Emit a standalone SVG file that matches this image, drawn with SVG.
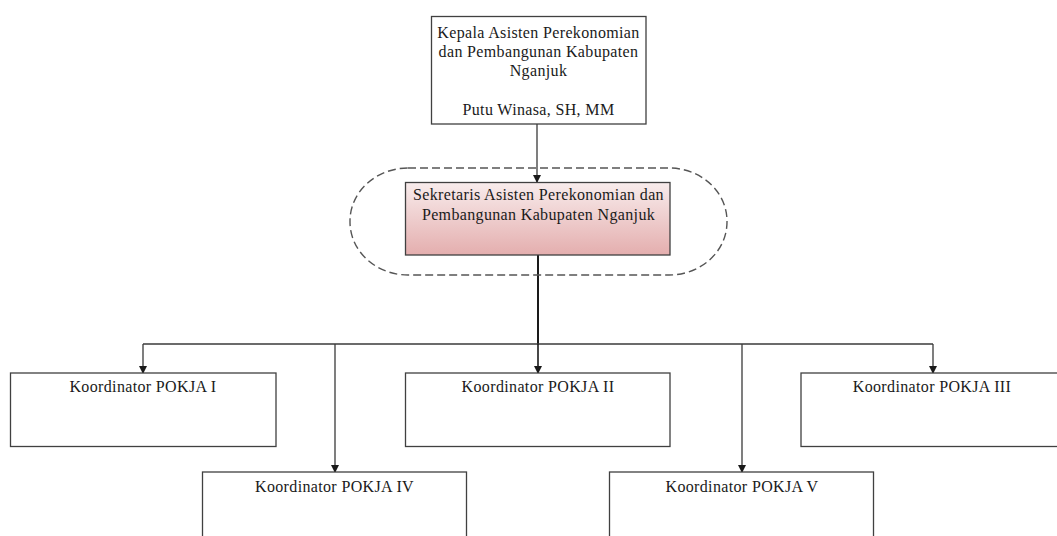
<svg xmlns="http://www.w3.org/2000/svg" width="1057" height="536" viewBox="0 0 1057 536">
<style>
.box{fill:#fff;stroke:#404040;stroke-width:1.3}
.t{font-family:"Liberation Serif","Times New Roman",serif;font-size:16px;letter-spacing:0.35px;fill:#1a1a1a;text-anchor:middle}
.ln{fill:none;stroke:#3a3a3a;stroke-width:1.3}
</style>
<defs>
<linearGradient id="pink" x1="0" y1="0" x2="0" y2="1">
<stop offset="0" stop-color="#f8ecec"/>
<stop offset="1" stop-color="#e4aeae"/>
</linearGradient>
<marker id="ah" markerWidth="8" markerHeight="8" refX="7" refY="4" orient="auto" markerUnits="userSpaceOnUse">
<path d="M0,0 L8,4 L0,8 Z" fill="#1a1a1a"/>
</marker>
</defs>
<g id="connectors">
<line class="ln" x1="537" y1="124" x2="537" y2="182" marker-end="url(#ah)"/>
<line x1="538" y1="255" x2="538" y2="344" stroke="#1a1a1a" stroke-width="2"/>
<line class="ln" x1="143" y1="344" x2="933" y2="344"/>
<line class="ln" x1="143" y1="344" x2="143" y2="373" marker-end="url(#ah)"/>
<line class="ln" x1="933" y1="344" x2="933" y2="373" marker-end="url(#ah)"/>
<line x1="538" y1="344" x2="538" y2="373" stroke="#1a1a1a" stroke-width="1.6" marker-end="url(#ah)"/>
<line class="ln" x1="335" y1="344" x2="335" y2="472" marker-end="url(#ah)"/>
<line class="ln" x1="742" y1="344" x2="742" y2="472" marker-end="url(#ah)"/>
</g>
<g id="kepala">
<rect class="box" x="431.5" y="16.5" width="214.5" height="107.5"/>
<text class="t" x="538.5" y="37.5">Kepala Asisten Perekonomian</text>
<text class="t" x="538.5" y="56.5">dan Pembangunan Kabupaten</text>
<text class="t" x="538.5" y="75.5">Nganjuk</text>
<text class="t" x="538.5" y="114.5">Putu Winasa, SH, MM</text>
</g>
<g id="sekretaris-group">
<rect x="350" y="168" width="377" height="107" rx="58" ry="53" fill="none" stroke="#555" stroke-width="1.4" stroke-dasharray="8,4"/>
</g>
<g id="sekretaris">
<rect x="405.5" y="182.5" width="264.5" height="72.5" fill="url(#pink)" stroke="#404040" stroke-width="1.3"/>
<text class="t" x="538.5" y="200">Sekretaris Asisten Perekonomian dan</text>
<text class="t" x="538.5" y="220">Pembangunan Kabupaten Nganjuk</text>
</g>
<g id="pokja1">
<rect class="box" x="10.5" y="373" width="265.5" height="73.5"/>
<text class="t" x="143" y="391.5">Koordinator POKJA I</text>
</g>
<g id="pokja2">
<rect class="box" x="405.5" y="373" width="264.5" height="73.5"/>
<text class="t" x="538" y="391.5">Koordinator POKJA II</text>
</g>
<g id="pokja3">
<rect class="box" x="801" y="373" width="260" height="73.5"/>
<text class="t" x="932" y="391.5">Koordinator POKJA III</text>
</g>
<g id="pokja4">
<rect class="box" x="202.5" y="472" width="264" height="80"/>
<text class="t" x="334.5" y="491.5">Koordinator POKJA IV</text>
</g>
<g id="pokja5">
<rect class="box" x="609.5" y="472" width="264" height="80"/>
<text class="t" x="742" y="491.5">Koordinator POKJA V</text>
</g>
</svg>
